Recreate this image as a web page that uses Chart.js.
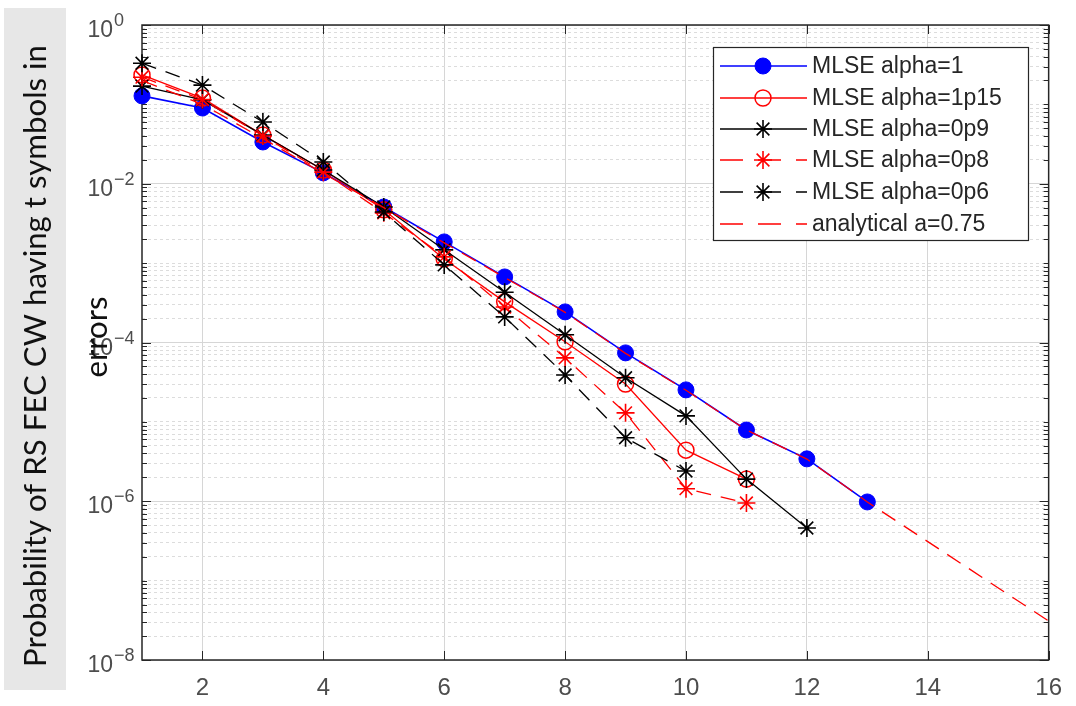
<!DOCTYPE html>
<html><head><meta charset="utf-8">
<script src="https://cdn.jsdelivr.net/npm/chart.js@4"></script>
<style>html,body{margin:0;padding:0;background:#fff;overflow:hidden}#wrap{position:relative;width:1076px;height:706px}</style>
</head><body><div id="wrap"><canvas id="c" width="1076" height="706"></canvas></div>
<script>
// ---- data ----
const tValues = [1,2,3,4,5,6,7,8,9,10,11,12,13,14,15,16];
const mlseAlpha1    = [0.128, 0.090, 0.0336, 0.0137, 0.0051, 0.00185, 6.7e-4, 2.43e-4, 7.4e-5, 2.53e-5, 7.9e-6, 3.42e-6, 9.8e-7];
const mlseAlpha1p15 = [0.235, 0.12, 0.041, 0.0149, 0.0047, 1.13e-3, 3.25e-4, 1.02e-4, 3.0e-5, 4.4e-6, 1.9e-6];
const mlseAlpha0p9  = [0.17, 0.114, 0.041, 0.0149, 0.0051, 1.47e-3, 4.3e-4, 1.25e-4, 3.6e-5, 1.19e-5, 1.9e-6, 4.6e-7];
const mlseAlpha0p8  = [0.22, 0.115, 0.040, 0.014, 0.0043, 1.2e-3, 2.8e-4, 6.4e-5, 1.3e-5, 1.44e-6, 9.5e-7];
const mlseAlpha0p6  = [0.33, 0.175, 0.060, 0.0188, 0.0044, 9.5e-4, 2.1e-4, 3.9e-5, 6.3e-6, 2.4e-6];
const analytical075 = [0.2, 0.1, 0.037, 0.0135, 0.005, 0.0018, 6.6e-4, 2.4e-4, 7.3e-5, 2.5e-5, 7.9e-6, 3.4e-6, 9.8e-7, 3.1e-7, 9.8e-8, 3.1e-8];
const seriesNames = ['MLSE alpha=1','MLSE alpha=1p15','MLSE alpha=0p9','MLSE alpha=0p8','MLSE alpha=0p6','analytical a=0.75'];
const xTickValues = [2,4,6,8,10,12,14,16];
const yTickValues = [1, 1e-2, 1e-4, 1e-6, 1e-8];
const yTickBase = '10';
const yTickExponents = ['0','\u22122','\u22124','\u22126','\u22128'];
const yTitleLines = ['Probability of RS FEC CW having t symbols in', 'errors'];

function pts(vals){ return vals.map((v,i)=>({x:tValues[i], y:v})); }
const yMinorTicks = [];
for (let e = -8; e < 0; e++) { for (let m = 1; m <= 9; m++) { const v = m*Math.pow(10,e); if (!(m===1 && e%2===0)) yMinorTicks.push(v); } }

const RED='#ff0000', BLUE='#0000ff', BLACK='#000000';
const datasets = [
  {label:seriesNames[0], data:pts(mlseAlpha1), borderColor:BLUE, borderWidth:1.6, pointStyle:'circle', pointRadius:8, pointBackgroundColor:BLUE, pointBorderColor:BLUE, pointBorderWidth:1, order:6},
  {label:seriesNames[1], data:pts(mlseAlpha1p15), borderColor:RED, borderWidth:1.3, pointStyle:'circle', pointRadius:8, pointBackgroundColor:'rgba(0,0,0,0)', pointBorderColor:RED, pointBorderWidth:1.5, order:5},
  {label:seriesNames[2], data:pts(mlseAlpha0p9), borderColor:BLACK, borderWidth:1.3, pointStyle:'star', pointRadius:9, pointBorderColor:BLACK, pointBorderWidth:1.6, order:4},
  {label:seriesNames[3], data:pts(mlseAlpha0p8), borderColor:RED, borderWidth:1.3, borderDash:[15,10], pointStyle:'star', pointRadius:9, pointBorderColor:RED, pointBorderWidth:1.6, order:3},
  {label:seriesNames[4], data:pts(mlseAlpha0p6), borderColor:BLACK, borderWidth:1.3, borderDash:[15,10], pointStyle:'star', pointRadius:9, pointBorderColor:BLACK, pointBorderWidth:1.6, order:2},
  {label:seriesNames[5], data:pts(analytical075), borderColor:RED, borderWidth:1.3, borderDash:[16,10], pointRadius:0, order:1}
];
datasets.forEach(d=>{d.fill=false; d.tension=0; d.clip=false; d.pointHoverRadius=d.pointRadius;});

function drawMarker(ctx, ds, x, y){
  if (!ds.pointRadius) return;
  const r = ds.pointRadius;
  ctx.save();
  ctx.setLineDash([]);
  ctx.lineWidth = ds.pointBorderWidth;
  ctx.strokeStyle = ds.pointBorderColor;
  if (ds.pointStyle === 'circle') {
    ctx.beginPath(); ctx.arc(x,y,r,0,Math.PI*2);
    if (ds.pointBackgroundColor) { ctx.fillStyle = ds.pointBackgroundColor; ctx.fill(); }
    ctx.stroke();
  } else {
    ctx.beginPath();
    for (let k=0;k<4;k++){ const a = k*Math.PI/4; const dx=Math.cos(a)*r, dy=Math.sin(a)*r; ctx.moveTo(x-dx,y-dy); ctx.lineTo(x+dx,y+dy); }
    ctx.stroke();
  }
  ctx.restore();
}

const decorPlugin = {
  id:'decor',
  beforeDatasetsDraw(chart){
    const ctx = chart.ctx, a = chart.chartArea, xs = chart.scales.x, ys = chart.scales.y;
    ctx.save();
    ctx.strokeStyle = '#262626'; ctx.lineWidth = 1;
    ctx.beginPath();
    xTickValues.forEach(v=>{ const px = Math.round(xs.getPixelForValue(v))+0.5; ctx.moveTo(px,a.bottom); ctx.lineTo(px,a.bottom-9); ctx.moveTo(px,a.top); ctx.lineTo(px,a.top+9); });
    yTickValues.forEach(v=>{ const py = Math.round(ys.getPixelForValue(v))+0.5; ctx.moveTo(a.left,py); ctx.lineTo(a.left+9,py); ctx.moveTo(a.right,py); ctx.lineTo(a.right-9,py); });
    yMinorTicks.forEach(v=>{ const py = Math.round(ys.getPixelForValue(v))+0.5; ctx.moveTo(a.left,py); ctx.lineTo(a.left+5,py); ctx.moveTo(a.right,py); ctx.lineTo(a.right-5,py); });
    ctx.stroke();
    ctx.lineWidth = 1.5;
    ctx.strokeRect(a.left, a.top, a.right-a.left, a.bottom-a.top);
    // y tick labels 10^n with real superscripts
    ctx.fillStyle = '#4d4d4d';
    ctx.textBaseline = 'alphabetic';
    yTickValues.forEach((v,i)=>{
      const py = ys.getPixelForValue(v);
      ctx.font = '23px "Liberation Sans", Arial, sans-serif';
      ctx.textAlign = 'right';
      ctx.fillText(yTickBase, 113, py + 12);
      ctx.font = '18px "Liberation Sans", Arial, sans-serif';
      ctx.textAlign = 'left';
      ctx.fillText(yTickExponents[i], 114, py + 1);
    });
    ctx.restore();
  },
  afterDraw(chart){
    const ctx = chart.ctx;
    ctx.save();
    ctx.fillStyle = '#e7e7e7';
    ctx.fillRect(4, 8, 62, 682);
    ctx.fillStyle = '#111';
    ctx.textAlign = 'center'; ctx.textBaseline = 'middle';
    let fs = 28;
    ctx.font = fs + 'px Lato, "Open Sans", sans-serif';
    const w = ctx.measureText(yTitleLines[0]).width;
    fs = fs * 622 / w;
    ctx.font = fs.toFixed(2) + 'px Lato, "Open Sans", sans-serif';
    ctx.translate(36, 356); ctx.rotate(-Math.PI/2);
    ctx.fillText(yTitleLines[0], 0, 0);
    ctx.rotate(Math.PI/2); ctx.translate(-36, -356);
    ctx.translate(97, 337); ctx.rotate(-Math.PI/2);
    ctx.fillText(yTitleLines[1], 0, 0);
    ctx.restore();

    ctx.save();
    const L = 713, T = 47, R = 1028, B = 240;
    ctx.fillStyle = '#fff'; ctx.fillRect(L, T, R-L, B-T);
    ctx.strokeStyle = '#262626'; ctx.lineWidth = 1.2; ctx.strokeRect(L+0.5, T+0.5, R-L, B-T);
    const rows = [66, 98, 129, 160, 192, 224];
    chart.data.datasets.forEach((ds,i)=>{
      const y = rows[i];
      ctx.save();
      ctx.strokeStyle = ds.borderColor; ctx.lineWidth = ds.borderWidth;
      ctx.setLineDash(ds.borderDash ? [23,15] : []);
      ctx.beginPath(); ctx.moveTo(720,y); ctx.lineTo(807,y); ctx.stroke();
      ctx.restore();
      drawMarker(ctx, ds, 763, y);
      ctx.fillStyle = '#262626';
      ctx.font = '23px "Liberation Sans", Arial, sans-serif';
      ctx.textAlign = 'left'; ctx.textBaseline = 'middle';
      ctx.fillText(ds.label, 812, y+1);
    });
    ctx.restore();
  }
};

new Chart(document.getElementById('c'), {
  type:'line',
  data:{datasets},
  options:{
    responsive:false, animation:false, devicePixelRatio:1,
    layout:{padding:{left:0,right:24,top:25,bottom:0}},
    plugins:{legend:{display:false}, tooltip:{enabled:false}},
    scales:{
      x:{type:'linear', min:1, max:16, position:'bottom',
         afterBuildTicks:(s)=>{ s.ticks = xTickValues.map(v=>({value:v})); },
         afterFit:(s)=>{ s.height = 46; },
         grid:{color:'#d6d6d6', lineWidth:1, drawTicks:false},
         border:{display:false},
         ticks:{padding:14, color:'#4d4d4d', font:{family:'"Liberation Sans", Arial, sans-serif', size:24}, maxRotation:0, autoSkip:false}},
      y:{type:'logarithmic', min:1e-8, max:1, position:'left',
         afterBuildTicks:(s)=>{ s.ticks = yTickValues.map(v=>({value:v})); },
         afterFit:(s)=>{ s.width = 142; },
         grid:{color:'#d6d6d6', lineWidth:1, drawTicks:false},
         border:{display:false},
         ticks:{display:false}},
      y2:{type:'logarithmic', min:1e-8, max:1, position:'left',
         afterBuildTicks:(s)=>{ s.ticks = yMinorTicks.map(v=>({value:v})); },
         afterFit:(s)=>{ s.width = 0; },
         grid:{color:'#dcdcdc', lineWidth:1, drawTicks:false},
         border:{display:false, dash:[3,3]},
         ticks:{display:false}}
    }
  },
  plugins:[decorPlugin]
});
</script></body></html>
